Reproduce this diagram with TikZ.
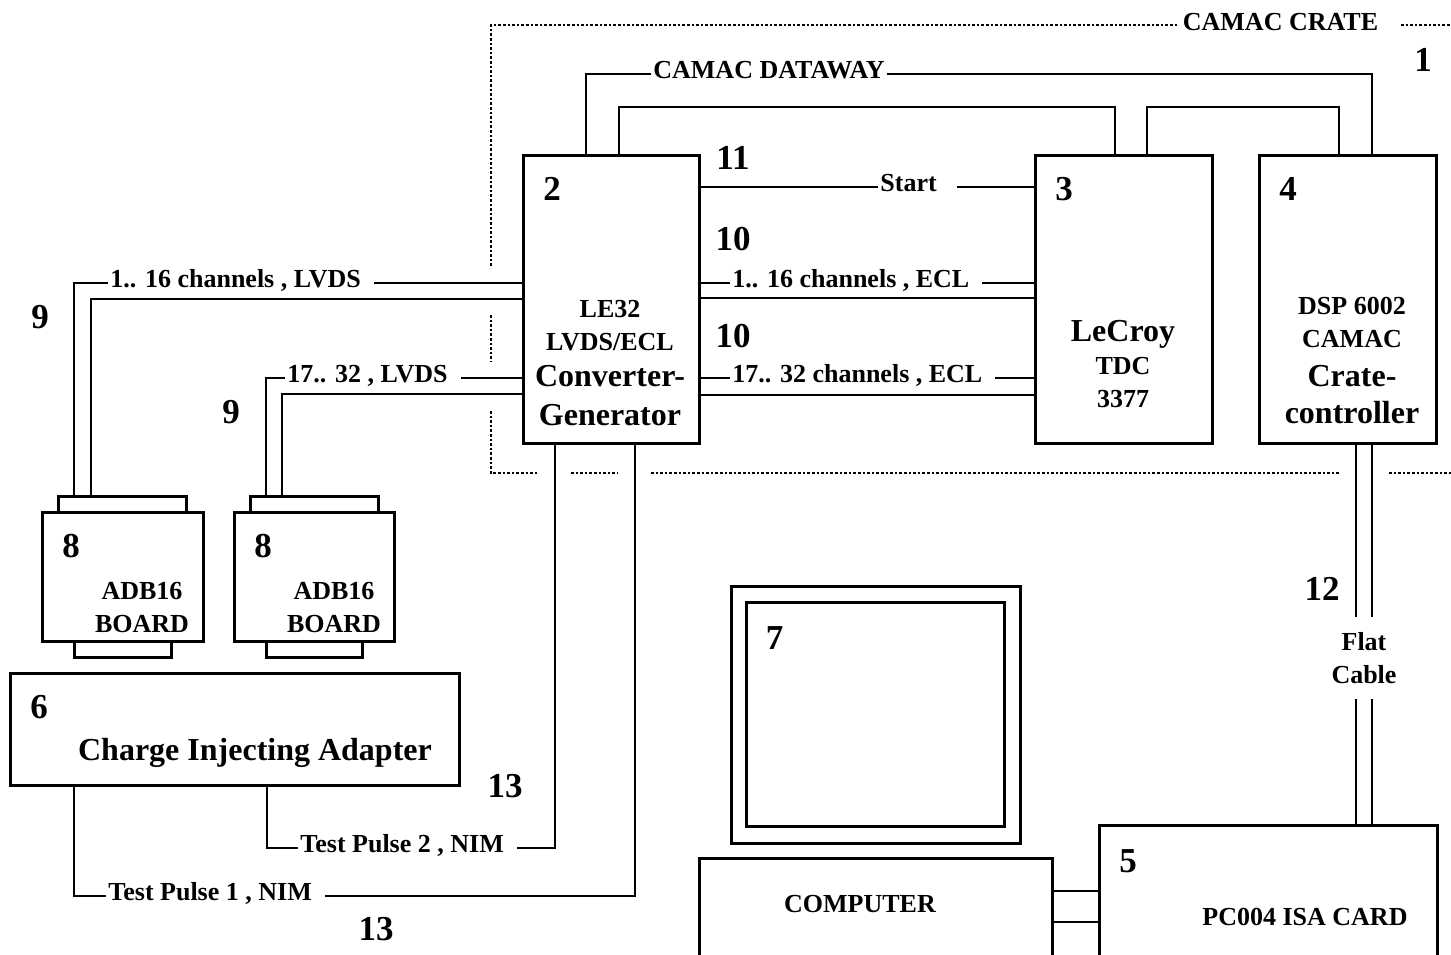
\documentclass[tikz,border=0pt]{standalone}
\usepackage{fontspec}
\setmainfont{Liberation Serif}
\usetikzlibrary{positioning}
\newcommand{\lblfont}{\fontsize{13}{16}\selectfont\bfseries}
\newcommand{\titlefont}{\fontsize{16}{19}\selectfont\bfseries}
\newcommand{\numfont}{\fontsize{17.5}{20}\selectfont\bfseries}
\newcommand{\tail}{\kern5.5pt}

\begin{document}
\begin{tikzpicture}[
        x=0.5pt, y=-0.5pt,
        node distance=0pt,
        box/.style={rectangle, draw, line width=1.5pt, outer sep=0pt, inner sep=0pt},
        tab/.style={box, minimum height=8pt},
        num/.style={font=\numfont, inner sep=0pt},
        txt/.style={font=\fontsize{13}{16.5}\selectfont\bfseries, align=center, inner sep=0pt},
        wire/.style={line width=1pt},
        crate/.style={line width=1.4pt, dash pattern=on 1.3pt off 1pt},
        cab/.style={font=\lblfont, fill=white, anchor=base west, yshift=-2pt, inner xsep=1pt, inner ysep=1.5pt}
    ]

        \clip (0,0) rectangle (1451,954);

        % CAMAC crate border
        \draw [crate] (491,266) -- (491,25) -- (1178,25);
        \draw [crate] (1401,25) -- (1451,25);
        \draw [crate] (491,315) -- (491,362);
        \draw [crate] (491,411) -- (491,473) -- (538,473);
        \draw [crate] (571,473) -- (618,473);
        \draw [crate] (651,473) -- (1340,473);
        \draw [crate] (1389,473) -- (1451,473);
        \node [font=\lblfont, anchor=base, inner sep=0pt] (cratelbl) at (1280.5,30) {CAMAC CRATE};

        % Modules
        \node [box, minimum width=88pt, minimum height=144pt] (conv) at (611,299) {};
        \node [box, minimum width=88.5pt, minimum height=144pt] (tdc) at (1123.5,299) {};
        \node [box, minimum width=88.5pt, minimum height=144pt] (ctrl) at (1347.5,299) {};

        \node [box, minimum width=80.5pt, minimum height=64.5pt] (adbA) at (122.5,576.5) {};
        \node [tab, minimum width=64pt, above=of adbA] (adbAtop) {};
        \node [tab, minimum width=48.5pt, below=of adbA] (adbAbot) {};
        \node [box, minimum width=80pt, minimum height=64.5pt] (adbB) at (314,576.5) {};
        \node [tab, minimum width=64pt, above=of adbB] (adbBtop) {};
        \node [tab, minimum width=48pt, below=of adbB] (adbBbot) {};

        \node [box, minimum width=224.5pt, minimum height=56pt] (cia) at (234.5,729) {};

        \node [box, minimum width=144.5pt, minimum height=128.5pt] (mon) at (875.5,714.5) {};
        \node [box, minimum width=129pt, minimum height=112pt] (screen) at (mon.center) {};
        \node [box, minimum width=176.5pt, minimum height=60pt, anchor=north] (pc) at (875.5,858) {};
        \node [box, minimum width=169pt, minimum height=72pt, anchor=north] (isa) at (1268,825) {};

        % Module numbers
        \node [num] (n2) at ([shift={(29,34)}]conv.north west) {2};
        \node [num] (n3) at ([shift={(29,34)}]tdc.north west) {3};
        \node [num] (n4) at ([shift={(29,34)}]ctrl.north west) {4};
        \node [num] (n8a) at ([shift={(29,34)}]adbA.north west) {8};
        \node [num] (n8b) at ([shift={(29,34)}]adbB.north west) {8};
        \node [num] (n6) at ([shift={(29,34)}]cia.north west) {6};
        \node [num] (n7) at ([shift={(28,36)}]screen.north west) {7};
        \node [num] (n5) at ([shift={(29,36)}]isa.north west) {5};

        % Module texts
        \node [txt, anchor=north] (convtxt) at (610,300)
            {LE32\\LVDS/ECL\\[1.5pt]{\titlefont Converter-}\\[3pt]{\titlefont Generator}};
        \node [txt, anchor=north] (tdctxt) at (1123,320)
            {{\titlefont LeCroy}\\TDC\\3377};
        \node [txt, anchor=north] (ctrltxt) at (1352,297)
            {DSP 6002\\CAMAC\\[3pt]{\titlefont Crate-}\\[2pt]{\titlefont controller}};
        \node [txt, anchor=north] (adbAtxt) at ([shift={(19.5,5.5)}]adbA.center) {ADB16\\BOARD};
        \node [txt, anchor=north] (adbBtxt) at ([shift={(20,5.5)}]adbB.center) {ADB16\\BOARD};
        \node [font=\titlefont, anchor=base, inner sep=0pt] (ciatxt) at ([shift={(20.5,31)}]cia.center) {Charge Injecting Adapter};
        \node [font=\lblfont, anchor=base, inner sep=0pt] (pctxt) at ([shift={(-15.5,54)}]pc.north) {COMPUTER};
        \node [font=\lblfont, anchor=base, inner sep=0pt] (isatxt) at ([shift={(37,100)}]isa.north) {PC004 ISA CARD};

        % CAMAC dataway
        \draw [wire] (586,0 |- conv.north) |- (1372,74) -- (1372,0 |- ctrl.north);
        \draw [wire] (619,0 |- conv.north) |- (1115,107) -- (1115,0 |- tdc.north);
        \draw [wire] (1147,0 |- tdc.north) |- (1339,107) -- (1339,0 |- ctrl.north);

        % Converter to TDC
        \draw [wire] (conv.east |- 0,187) -- (tdc.west |- 0,187);
        \draw [wire] (conv.east |- 0,283) -- (tdc.west |- 0,283);
        \draw [wire] (conv.east |- 0,298) -- (tdc.west |- 0,298);
        \draw [wire] (conv.east |- 0,378) -- (tdc.west |- 0,378);
        \draw [wire] (conv.east |- 0,395) -- (tdc.west |- 0,395);

        % Boards to converter
        \draw [wire] (74,0 |- adbAtop.north) |- (conv.west |- 0,283);
        \draw [wire] (91,0 |- adbAtop.north) |- (conv.west |- 0,299);
        \draw [wire] (266,0 |- adbBtop.north) |- (conv.west |- 0,378);
        \draw [wire] (282,0 |- adbBtop.north) |- (conv.west |- 0,394);

        % Test pulses
        \draw [wire] (267,0 |- cia.south) |- (555,848) -- (555,0 |- conv.south);
        \draw [wire] (74,0 |- cia.south) |- (635,896) -- (635,0 |- conv.south);

        % Flat cable and computer
        \draw [wire] (1356,0 |- ctrl.south) -- (1356,0 |- isa.north);
        \draw [wire] (1372,0 |- ctrl.south) -- (1372,0 |- isa.north);
        \draw [wire] (pc.east |- 0,891) -- (isa.west |- 0,891);
        \draw [wire] (pc.east |- 0,922) -- (isa.west |- 0,922);

        % Cable labels
        \node [cab] (dataway) at (651,74) {CAMAC DATAWAY};
        \node [cab] (start) at (878,187) {Start\kern9pt};
        \node [cab] (eclA) at (730,283) {1.. 16 channels , ECL\tail};
        \node [cab] (eclB) at (730,378) {17.. 32 channels , ECL\tail};
        \node [cab] (lvdsA) at (108,283) {1.. 16 channels , LVDS\tail};
        \node [cab] (lvdsB) at (285,378) {17.. 32 , LVDS\tail};
        \node [cab] (pulseB) at (298,848) {Test Pulse 2 , NIM\tail};
        \node [cab] (pulseA) at (106,896) {Test Pulse 1 , NIM\tail};
        \node [txt, fill=white, minimum height=41pt, inner xsep=2pt] (flat) at (1364,658) {Flat\\Cable};

        % Cable numbers
        \node [num] (n1) at (1423,60) {1};
        \node [num] (n11) at (733,158) {11};
        \node [num] (n10a) at (733,239) {10};
        \node [num] (n10b) at (733,336) {10};
        \node [num] (n9a) at (40,317) {9};
        \node [num] (n9b) at (231,412) {9};
        \node [num] (n12) at (1322,589) {12};
        \node [num] (n13a) at (505,786) {13};
        \node [num] (n13b) at (376,929) {13};

    \end{tikzpicture}
\end{document}
